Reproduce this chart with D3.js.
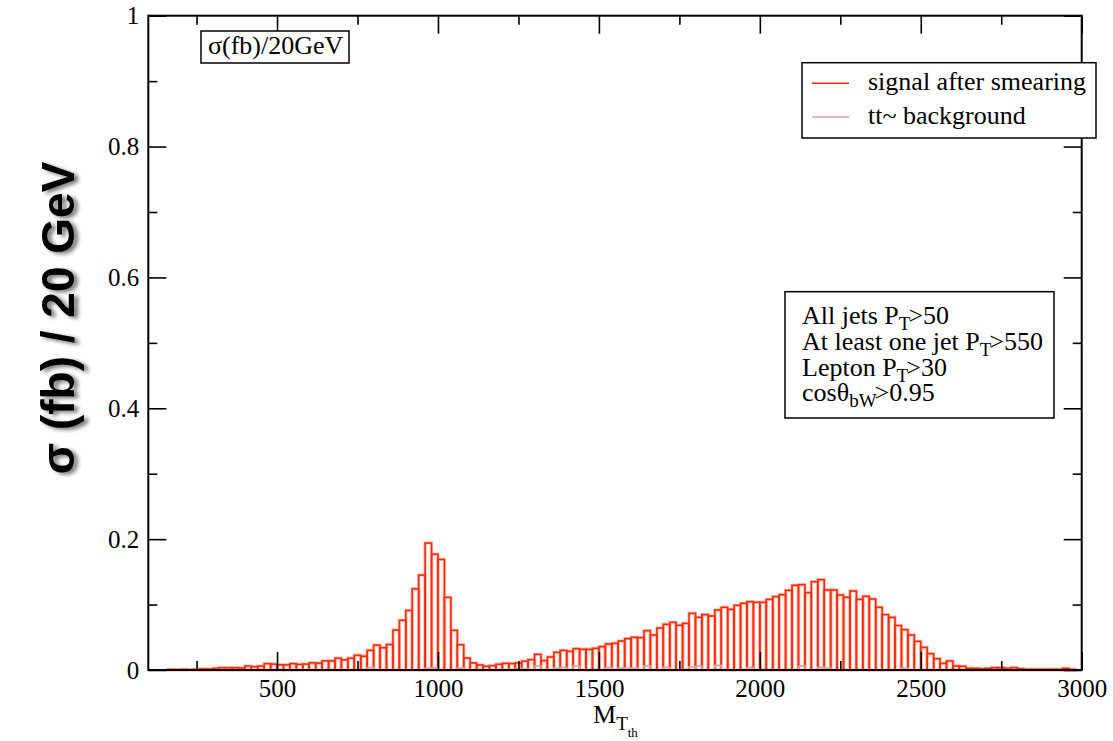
<!DOCTYPE html>
<html>
<head>
<meta charset="utf-8">
<script src="https://cdn.jsdelivr.net/npm/d3@7"></script>
<style>
  body { margin: 0; background: #fff; }
  svg { display: block; }
  .note { font-family: "Liberation Serif", "Times New Roman", serif; font-size: 26px; fill: #000; }
  svg g.axis text { font-family: "Liberation Serif", "Times New Roman", serif !important; font-size: 25px !important; fill: #000; }
</style>
</head>
<body>
<div id="chart"></div>
<script>
// bin width 20 GeV, from 100 to 3000
var binWidth = 20;
var binStart = d3.range(100, 3000, binWidth);

// signal after smearing (fb / 20 GeV), one value per bin
var signal = [
  0, 0, 0, 0.0008, 0.0005, 0.0008, 0.0005, 0.001, 0.0015, 0.0015,
  0.0025, 0.0035, 0.0035, 0.0035, 0.003, 0.006, 0.005, 0.006, 0.0097, 0.009,
  0.008, 0.0078, 0.0097, 0.0085, 0.009, 0.011, 0.0105, 0.014, 0.0138, 0.018,
  0.0155, 0.018, 0.0225, 0.021, 0.030, 0.038, 0.034, 0.039, 0.061, 0.076,
  0.091, 0.124, 0.145, 0.194, 0.177, 0.169, 0.111, 0.0606, 0.0387, 0.0183,
  0.0107, 0.0076, 0.0056, 0.0066, 0.0087, 0.0102, 0.0097, 0.0107, 0.0135, 0.0158,
  0.0239, 0.0143, 0.0199, 0.027, 0.030, 0.0285, 0.0326, 0.0316, 0.0316, 0.0331,
  0.0357, 0.0397, 0.0408, 0.0443, 0.0479, 0.0499, 0.0494, 0.0601, 0.0535, 0.0642,
  0.0698, 0.0728, 0.0683, 0.0713, 0.0866, 0.0805, 0.0846, 0.0825, 0.0917, 0.0958,
  0.0927, 0.0988, 0.1019, 0.1044, 0.1034, 0.1034, 0.108, 0.1121, 0.1151, 0.1218,
  0.1294, 0.1304, 0.1182, 0.135, 0.138, 0.1223, 0.1223, 0.1146, 0.1111, 0.1207,
  0.108, 0.1126, 0.1085, 0.0958, 0.0846, 0.0805, 0.068, 0.0616, 0.0535, 0.0438,
  0.0346, 0.025, 0.0173, 0.0102, 0.0138, 0.0061, 0.0056, 0.0025, 0.0025, 0.002,
  0.0025, 0.0036, 0.0036, 0.0025, 0.0036, 0.002, 0.001, 0.001, 0.001, 0.001,
  0.001, 0.001, 0.0025, 0.001, 0
];

// tt~ background, one value per bin
var background = [
  0, 0, 0, 0, 0, 0, 0, 0, 0, 0,
  0, 0, 0, 0, 0, 0, 0, 0, 0, 0,
  0, 0, 0, 0, 0, 0, 0, 0, 0, 0,
  0, 0, 0, 0, 0.0036, 0, 0, 0, 0, 0,
  0, 0, 0, 0.003, 0.0036, 0, 0, 0, 0.003, 0,
  0, 0, 0, 0, 0, 0, 0, 0.002, 0.002, 0,
  0.006, 0, 0, 0.003, 0.004, 0, 0.006, 0, 0, 0,
  0, 0.004, 0, 0.003, 0.003, 0.003, 0, 0.006, 0, 0,
  0.004, 0, 0, 0, 0.005, 0.006, 0, 0, 0.007, 0,
  0, 0, 0, 0.004, 0, 0, 0, 0, 0, 0,
  0, 0.006, 0, 0, 0.004, 0.003, 0, 0, 0, 0,
  0, 0, 0, 0, 0, 0, 0, 0.003, 0, 0,
  0, 0, 0, 0, 0, 0, 0, 0, 0, 0,
  0, 0, 0, 0, 0, 0, 0, 0, 0, 0,
  0, 0, 0, 0, 0
];

var xTicks = [500, 1000, 1500, 2000, 2500, 3000];
var xMinorTicks = [250, 750, 1250, 1750, 2250, 2750];
var yTicks = [0, 0.2, 0.4, 0.6, 0.8, 1];
var yTickLabels = ["0", "0.2", "0.4", "0.6", "0.8", "1"];
var yMinorTicks = [0.1, 0.3, 0.5, 0.7, 0.9];

var seriesNames = ["signal after smearing", "tt~ background"];
var seriesColors = ["#ff2a0a", "#d4a3a3"];

var cuts = [
  ["All jets P", "T", ">50"],
  ["At least one jet P", "T", ">550"],
  ["Lepton P", "T", ">30"],
  ["cosθ", "bW", ">0.95"]
];

// set the dimensions and margins of the graph
var W = 1113, H = 741;
var margin = {top: 15.7, right: 31.3, bottom: 71, left: 148.3},
    width = W - margin.left - margin.right,
    height = H - margin.top - margin.bottom;

var svg = d3.select("#chart").append("svg")
    .attr("width", W)
    .attr("height", H);

var defs = svg.append("defs");
var shadow = defs.append("filter").attr("id", "shadow")
    .attr("x", "-20%").attr("y", "-20%").attr("width", "140%").attr("height", "140%");
shadow.append("feGaussianBlur").attr("in", "SourceAlpha").attr("stdDeviation", 2.2).attr("result", "blur");
shadow.append("feOffset").attr("in", "blur").attr("dx", 4).attr("dy", 2).attr("result", "off");
shadow.append("feComponentTransfer").attr("in", "off").attr("result", "soft")
    .append("feFuncA").attr("type", "linear").attr("slope", 0.55);
var merge = shadow.append("feMerge");
merge.append("feMergeNode").attr("in", "soft");
merge.append("feMergeNode").attr("in", "SourceGraphic");

var g = svg.append("g")
    .attr("transform", "translate(" + margin.left + "," + margin.top + ")");

// scales
var x = d3.scaleLinear().domain([100, 3000]).range([0, width]);
var y = d3.scaleLinear().domain([0, 1]).range([height, 0]);

// signal histogram: one outlined box per bin, with a light halo under it
var bins = binStart.map(function(d, i) { return {x0: d, x1: d + binWidth, s: signal[i], b: background[i]}; });

g.append("g").selectAll("rect")
    .data(bins.filter(function(d) { return d.s > 0; }))
    .enter().append("rect")
    .attr("x", function(d) { return x(d.x0); })
    .attr("y", function(d) { return y(d.s); })
    .attr("width", function(d) { return x(d.x1) - x(d.x0); })
    .attr("height", function(d) { return y(0) - y(d.s); })
    .attr("fill", "none")
    .attr("stroke", "#fcc3b8")
    .attr("stroke-width", 3.4);

g.append("g").selectAll("rect")
    .data(bins.filter(function(d) { return d.s > 0; }))
    .enter().append("rect")
    .attr("x", function(d) { return x(d.x0); })
    .attr("y", function(d) { return y(d.s); })
    .attr("width", function(d) { return x(d.x1) - x(d.x0); })
    .attr("height", function(d) { return y(0) - y(d.s); })
    .attr("fill", "none")
    .attr("stroke", seriesColors[0])
    .attr("stroke-width", 1.6);

// background histogram
g.append("g").selectAll("rect")
    .data(bins.filter(function(d) { return d.b > 0; }))
    .enter().append("rect")
    .attr("x", function(d) { return x(d.x0); })
    .attr("y", function(d) { return y(d.b); })
    .attr("width", function(d) { return x(d.x1) - x(d.x0); })
    .attr("height", function(d) { return y(0) - y(d.b); })
    .attr("fill", "none")
    .attr("stroke", seriesColors[1])
    .attr("stroke-width", 1.6);

// axes, ticks pointing inward on all four sides
function styleAxis(sel) {
    sel.attr("class", "axis").attr("font-family", null).attr("font-size", null);
    sel.select(".domain").remove();
    sel.selectAll(".tick line").attr("stroke", "#000").attr("stroke-width", 1.6);
    sel.selectAll(".tick text")
        .style("font-family", "Liberation Serif, serif")
        .style("font-size", "25px")
        .attr("fill", "#000");
}

g.append("g")
    .attr("transform", "translate(0," + height + ")")
    .call(d3.axisBottom(x).tickValues(xTicks).tickSize(-18).tickPadding(9).tickFormat(d3.format("d")))
    .call(styleAxis);
g.append("g")
    .attr("transform", "translate(0," + height + ")")
    .call(d3.axisBottom(x).tickValues(xMinorTicks).tickSize(-9).tickFormat(""))
    .call(styleAxis);
g.append("g")
    .call(d3.axisTop(x).tickValues(xTicks).tickSize(-18).tickFormat(""))
    .call(styleAxis);
g.append("g")
    .call(d3.axisTop(x).tickValues(xMinorTicks).tickSize(-9).tickFormat(""))
    .call(styleAxis);

g.append("g")
    .call(d3.axisLeft(y).tickValues(yTicks).tickSize(-18).tickPadding(9)
        .tickFormat(function(d, i) { return yTickLabels[i]; }))
    .call(styleAxis);
g.append("g")
    .call(d3.axisLeft(y).tickValues(yMinorTicks).tickSize(-9).tickFormat(""))
    .call(styleAxis);
g.append("g")
    .attr("transform", "translate(" + width + ",0)")
    .call(d3.axisRight(y).tickValues(yTicks).tickSize(-18).tickFormat(""))
    .call(styleAxis);
g.append("g")
    .attr("transform", "translate(" + width + ",0)")
    .call(d3.axisRight(y).tickValues(yMinorTicks).tickSize(-9).tickFormat(""))
    .call(styleAxis);

// frame
g.append("rect")
    .attr("width", width)
    .attr("height", height)
    .attr("fill", "none")
    .attr("stroke", "#000")
    .attr("stroke-width", 2);

// title box
svg.append("rect")
    .attr("x", 201).attr("y", 31).attr("width", 148).attr("height", 32)
    .attr("fill", "#fff").attr("stroke", "#000").attr("stroke-width", 1.5);
svg.append("text").attr("class", "note")
    .attr("x", 208).attr("y", 54)
    .text("σ(fb)/20GeV");

// legend
svg.append("rect")
    .attr("x", 802).attr("y", 62.7).attr("width", 294).attr("height", 75.3)
    .attr("fill", "#fff").attr("stroke", "#000").attr("stroke-width", 1.5);
var legendY = [83.3, 117];
seriesNames.forEach(function(name, i) {
    svg.append("line")
        .attr("x1", 812).attr("x2", 849)
        .attr("y1", legendY[i]).attr("y2", legendY[i])
        .attr("stroke", seriesColors[i]).attr("stroke-width", 1.6);
    svg.append("text").attr("class", "note")
        .attr("x", 868).attr("y", legendY[i] + 6.5)
        .text(name);
});

// cuts box
svg.append("rect")
    .attr("x", 785).attr("y", 291.7).attr("width", 269).attr("height", 126.3)
    .attr("fill", "#fff").attr("stroke", "#000").attr("stroke-width", 1.5);
cuts.forEach(function(c, i) {
    var t = svg.append("text").attr("class", "note")
        .attr("x", 802).attr("y", 324 + i * 25.8);
    t.append("tspan").text(c[0]);
    t.append("tspan").attr("font-size", 19).attr("dy", 6).text(c[1]);
    t.append("tspan").attr("dy", -6).attr("dx", -2).text(c[2]);
});

// x axis label M_{T_th}
var xl = svg.append("text").attr("class", "note")
    .attr("x", 593).attr("y", 723);
xl.append("tspan").text("M");
xl.append("tspan").attr("font-size", 19).attr("dy", 7).text("T");
xl.append("tspan").attr("font-size", 13).attr("dy", 7).text("th");

// y axis label with drop shadow
svg.append("g")
    .attr("filter", "url(#shadow)")
    .append("text")
    .attr("transform", "translate(74,318) rotate(-90)")
    .attr("text-anchor", "middle")
    .attr("font-family", "Liberation Sans, Arial, sans-serif")
    .attr("font-weight", "bold")
    .attr("font-size", 46)
    .attr("fill", "#000")
    .text("σ (fb) / 20 GeV");
</script>
</body>
</html>
